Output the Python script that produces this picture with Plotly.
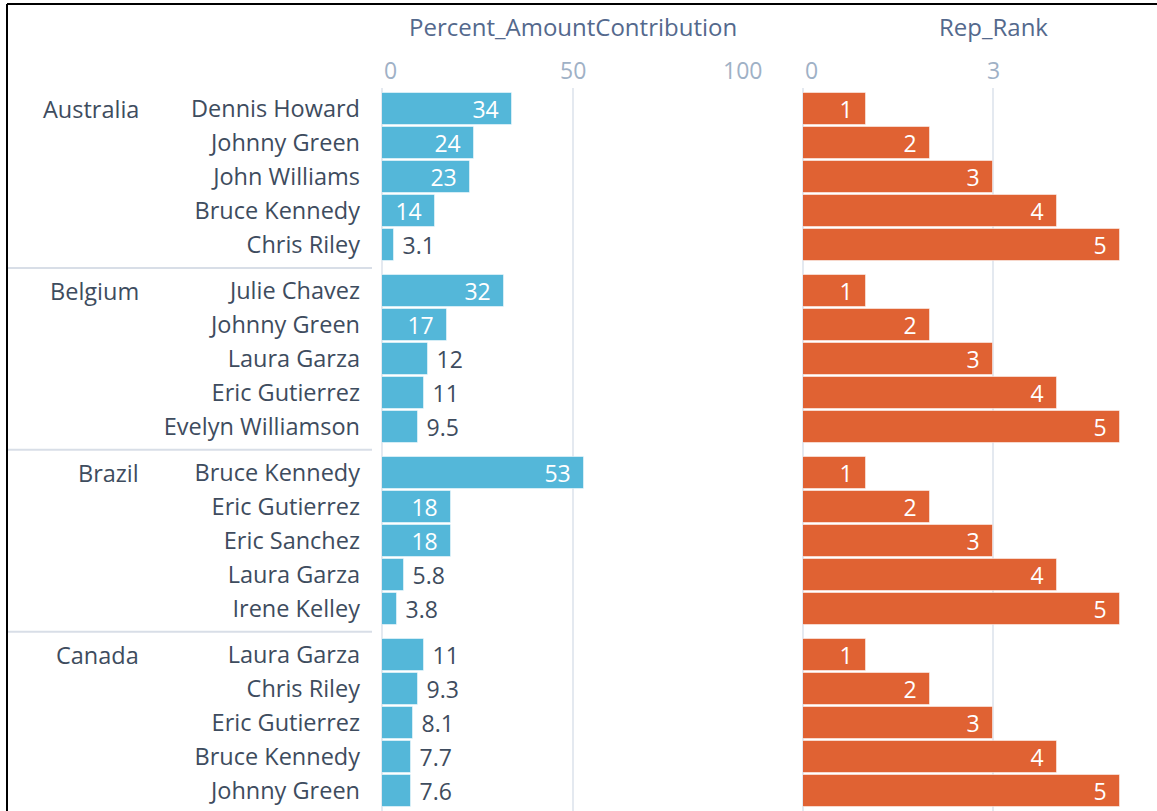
import plotly.graph_objects as go

countries = ["Australia", "Belgium", "Brazil", "Canada"]
reps = [
    ["Dennis Howard", "Johnny Green", "John Williams", "Bruce Kennedy", "Chris Riley"],
    ["Julie Chavez", "Johnny Green", "Laura Garza", "Eric Gutierrez", "Evelyn Williamson"],
    ["Bruce Kennedy", "Eric Gutierrez", "Eric Sanchez", "Laura Garza", "Irene Kelley"],
    ["Laura Garza", "Chris Riley", "Eric Gutierrez", "Bruce Kennedy", "Johnny Green"],
]
pct_values = [
    [34, 24, 23, 14, 3.1],
    [32, 17, 12, 11, 9.5],
    [53, 18, 18, 5.8, 3.8],
    [11, 9.3, 8.1, 7.7, 7.6],
]
rank_values = [
    [1, 2, 3, 4, 5],
    [1, 2, 3, 4, 5],
    [1, 2, 3, 4, 5],
    [1, 2, 3, 4, 5],
]
pct_ticks = [0, 50, 100]
rank_ticks = [0, 3]
title_pct = "Percent_AmountContribution"
title_rank = "Rep_Rank"

W, H = 1157, 811
FONT = "Open Sans"
LABEL_C = "#3e4c5e"
TICK_C = "#9fb1c6"
TITLE_C = "#54698d"
BLUE = "#54b7d9"
ORANGE = "#e06233"
GRID_C = "#e4e9f0"
STEP = 5.35  # group pitch in row units
LBL_SZ = 23.5
NUM_SZ = 23
TITLE_SZ = 24

ypos, names, pcts, ranks = [], [], [], []
for g, (rl, pl, kl) in enumerate(zip(reps, pct_values, rank_values)):
    for i, (n, p, k) in enumerate(zip(rl, pl, kl)):
        ypos.append(g * STEP + i)
        names.append(n)
        pcts.append(p)
        ranks.append(k)

PAD_IN = "\u00a0\u2009"
pct_pos = ["inside" if v >= 13 else "outside" for v in pcts]
pct_tmpl = ["%{x}" + PAD_IN if p == "inside" else "\u00a0%{x}" for p in pct_pos]

fig = go.Figure()
fig.add_trace(go.Bar(
    x=pcts, y=ypos, orientation="h", xaxis="x", yaxis="y",
    marker=dict(color=BLUE, line=dict(color="rgba(255,255,255,0.5)", width=1)),
    width=0.94, textposition=pct_pos, texttemplate=pct_tmpl,
    insidetextanchor="end", textangle=0, constraintext="none",
    insidetextfont=dict(color="white", size=NUM_SZ, family=FONT),
    outsidetextfont=dict(color=LABEL_C, size=NUM_SZ, family=FONT),
    cliponaxis=False, hoverinfo="skip", showlegend=False,
))
fig.add_trace(go.Bar(
    x=ranks, y=ypos, orientation="h", xaxis="x2", yaxis="y",
    marker=dict(color=ORANGE, line=dict(color="rgba(255,255,255,0.5)", width=1)),
    width=0.94, textposition="inside", texttemplate="%{x}" + PAD_IN,
    insidetextanchor="end", textangle=0, constraintext="none",
    insidetextfont=dict(color="white", size=NUM_SZ, family=FONT),
    hoverinfo="skip", showlegend=False,
))

x1_0, x1_1 = 382 / W, 764 / W
x2_0 = 803 / W
px_per_rank = (1120 - 803) / 5.0
rank_max = (W - 803) / px_per_rank

top_px = 88
row_px = 34
y_top = -(109 - top_px) / row_px
y_bot = (H - 109) / row_px

fig.update_layout(
    width=W, height=H,
    margin=dict(l=0, r=0, t=0, b=0),
    paper_bgcolor="white", plot_bgcolor="white",
    font=dict(family=FONT, size=LBL_SZ, color=LABEL_C),
    bargap=0,
    xaxis=dict(domain=[x1_0, x1_1], range=[0, 100], side="top",
               tickvals=pct_ticks, showticklabels=False, showgrid=True,
               gridcolor=GRID_C, gridwidth=1.5, zeroline=True,
               zerolinecolor=GRID_C, zerolinewidth=1.5, showline=False,
               fixedrange=True),
    xaxis2=dict(domain=[x2_0, 1], range=[0, rank_max], side="top",
                anchor="y", tickvals=rank_ticks, showticklabels=False,
                showgrid=True, gridcolor=GRID_C, gridwidth=1.5,
                zeroline=True, zerolinecolor=GRID_C, zerolinewidth=1.5,
                showline=False, fixedrange=True),
    yaxis=dict(domain=[0, 1 - top_px / H], range=[y_bot, y_top],
               tickvals=ypos, ticktext=names, showgrid=False,
               zeroline=False, showline=False, ticks="",
               ticklabelstandoff=21,
               tickfont=dict(size=LBL_SZ, color=LABEL_C, family=FONT),
               fixedrange=True),
)

ann = []
# axis titles
ann.append(dict(text=title_pct, xref="x", x=50, yref="paper", y=1 - 27 / H,
                xanchor="center", yanchor="middle", showarrow=False,
                font=dict(size=TITLE_SZ, color=TITLE_C, family=FONT)))
ann.append(dict(text=title_rank, xref="x2", x=3, yref="paper", y=1 - 27 / H,
                xanchor="center", yanchor="middle", showarrow=False,
                font=dict(size=TITLE_SZ, color=TITLE_C, family=FONT)))
# tick labels
for t in pct_ticks:
    anchor = "left" if t == pct_ticks[0] else ("right" if t == pct_ticks[-1] else "center")
    ann.append(dict(text=str(t), xref="x", x=t, yref="paper", y=1 - 70 / H,
                    xanchor=anchor, yanchor="middle", showarrow=False,
                    font=dict(size=NUM_SZ, color=TICK_C, family=FONT)))
for t in rank_ticks:
    anchor = "left" if t == rank_ticks[0] else "center"
    ann.append(dict(text=str(t), xref="x2", x=t, yref="paper", y=1 - 70 / H,
                    xanchor=anchor, yanchor="middle", showarrow=False,
                    font=dict(size=NUM_SZ, color=TICK_C, family=FONT)))
# country labels
for g, c in enumerate(countries):
    ann.append(dict(text=c, xref="paper", x=141 / W, yref="y", y=g * STEP,
                    xanchor="right", yanchor="middle", showarrow=False,
                    font=dict(size=LBL_SZ, color=LABEL_C, family=FONT)))
fig.update_layout(annotations=ann)

shapes = []
for g in range(len(countries)):
    ys = g * STEP + 4 + (STEP - 4) / 2
    shapes.append(dict(type="line", xref="paper", x0=7 / W, x1=372 / W,
                       yref="y", y0=ys, y1=ys,
                       line=dict(color="#d8dee7", width=2)))
# screenshot frame (top and left edges)
shapes.append(dict(type="line", xref="paper", yref="paper",
                   x0=7 / W, x1=1, y0=1 - 4 / H, y1=1 - 4 / H,
                   line=dict(color="black", width=2)))
shapes.append(dict(type="line", xref="paper", yref="paper",
                   x0=7 / W, x1=7 / W, y0=0, y1=1 - 4 / H,
                   line=dict(color="black", width=2)))
fig.update_layout(shapes=shapes)

fig.write_html(
    "out.html",
    config={"displayModeBar": False},
    post_script="document.body.style.margin='0';document.body.style.overflow='hidden';",
)
